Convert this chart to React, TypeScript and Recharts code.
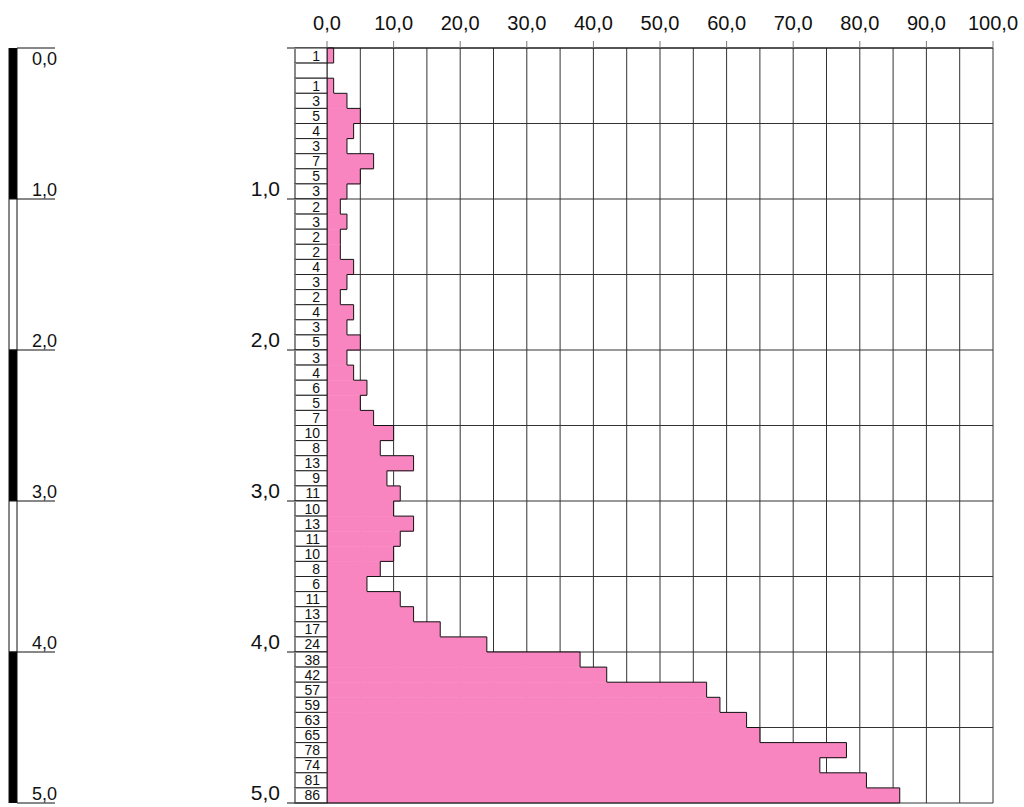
import React from 'react';
import { BarChart, Bar, XAxis, YAxis, CartesianGrid } from 'recharts';

// blow counts per 0.1 m, from top (0.0) to bottom (5.0); null = no reading
const blows = [
  1, null, 1, 3, 5, 4, 3, 7, 5, 3,
  2, 3, 2, 2, 4, 3, 2, 4, 3, 5,
  3, 4, 6, 5, 7, 10, 8, 13, 9, 11,
  10, 13, 11, 10, 8, 6, 11, 13, 17, 24,
  38, 42, 57, 59, 63, 65, 78, 74, 81, 86
];
const depthMarks = [0, 1, 2, 3, 4, 5];
const halfMarks = [0, 0.5, 1, 1.5, 2, 2.5, 3, 3.5, 4, 4.5, 5];
const xTicks = [0, 10, 20, 30, 40, 50, 60, 70, 80, 90, 100];
const xGrid = [0, 5, 10, 15, 20, 25, 30, 35, 40, 45, 50, 55, 60, 65, 70, 75, 80, 85, 90, 95, 100];
const scaleColors = ['#000', '#fff', '#000', '#fff', '#000'];

const FONT = '"Liberation Sans", Arial, sans-serif';
const PINK = '#F985C0';

const rowCenters = blows.map((_, i) => +(i * 0.1 + 0.05).toFixed(2));
const data = blows.map((v, i) => ({ row: i, depth: rowCenters[i], value: v }));
const depthTicks = [...depthMarks, ...rowCenters].sort((a, b) => a - b);

const scaleRow: Record<string, any> = { name: 'scale' };
scaleColors.forEach((_, i) => { scaleRow['s' + i] = 1; });

const comma = (v: number) => v.toFixed(1).replace('.', ',');

// fill + stepped outline (no inner lines between rows)
const StepShape = (props: any) => {
  const { x, y, width, height, payload } = props;
  const index = payload.row;
  const v = blows[index];
  if (!v) return null;
  const k = width / v;
  const prev = index > 0 ? blows[index - 1] || 0 : 0;
  const next = index < blows.length - 1 ? blows[index + 1] || 0 : 0;
  const xr = x + width;
  return (
    <g>
      <rect x={x} y={y} width={width} height={height + (next ? 0.6 : 0)} fill={PINK} />
      <path
        d={`M${x + prev * k},${y}H${xr}V${y + height}` + (next === 0 ? `H${x}` : '') + `M${x},${y}V${y + height}`}
        stroke="#111"
        strokeWidth={1}
        fill="none"
      />
    </g>
  );
};

const DepthTick = (props: any) => {
  const { x, y, payload } = props;
  const v = payload.value;
  if (depthMarks.includes(v)) {
    return (
      <g>
        <line x1={x - 40} x2={x} y1={y} y2={y} stroke="#111" />
        {v > 0 && (
          <text x={x - 47} y={y - 3} textAnchor="end" fontSize={21} fontFamily={FONT} fill="#111">
            {comma(v)}
          </text>
        )}
      </g>
    );
  }
  const i = Math.round((v - 0.05) * 10);
  const b = blows[i];
  const h = 15.1;
  return (
    <g>
      <rect x={x - 32} y={y - h / 2} width={32} height={h} fill="#fff" stroke="#222" strokeWidth={1} />
      <line x1={x - 32} x2={x - 32} y1={y - h / 2} y2={y + h / 2} stroke="#888" strokeWidth={2} />
      {b != null && (
        <text x={x - 7} y={y + 5} textAnchor="end" fontSize={14} fontFamily={FONT} fill="#111">
          {b}
        </text>
      )}
    </g>
  );
};

const ScaleTick = (props: any) => {
  const { x, y, payload } = props;
  const v = payload.value;
  return (
    <g>
      <line x1={x} x2={x + 38} y1={y} y2={y} stroke="#111" />
      <text x={x + 40} y={v === 0 ? y + 17 : y - 3} textAnchor="end" fontSize={18} fontFamily={FONT} fill="#111">
        {comma(v)}
      </text>
    </g>
  );
};

export default function App() {
  return (
    <div style={{ position: 'absolute', left: 0, top: 0, width: 1024, height: 807, background: '#fff' }}>
      <div style={{ position: 'absolute', left: 0, top: 0 }}>
        <BarChart width={120} height={807} data={[scaleRow]} margin={{ top: 48, right: 0, bottom: 4, left: 9 }} barCategoryGap={0}>
          <XAxis dataKey="name" hide />
          <YAxis
            type="number"
            orientation="right"
            domain={[0, 5]}
            allowDataOverflow
            reversed
            ticks={depthMarks}
            interval={0}
            width={103}
            tickSize={0}
            tickMargin={0}
            axisLine={false}
            tick={<ScaleTick />}
          />
          {scaleColors.map((c, i) => (
            <Bar key={i} dataKey={'s' + i} stackId="a" fill={c} stroke="#111" strokeWidth={1} isAnimationActive={false} />
          ))}
        </BarChart>
      </div>
      <div style={{ position: 'absolute', left: 200, top: 0 }}>
        <BarChart
          width={824}
          height={807}
          data={data}
          layout="vertical"
          margin={{ top: 0, right: 31, bottom: 4, left: 0 }}
          barCategoryGap={0}
        >
          <CartesianGrid
            yAxisId="depth"
            horizontalValues={halfMarks}
            verticalValues={xGrid}
            stroke="#333"
            strokeWidth={1}
          />
          <XAxis
            type="number"
            orientation="top"
            domain={[0, 100]}
            allowDataOverflow
            ticks={xTicks}
            interval={0}
            height={48}
            tickSize={7}
            tickMargin={11}
            tickFormatter={comma}
            tickLine={{ stroke: '#777' }}
            axisLine={{ stroke: '#111' }}
            tick={{ fontSize: 20, fontFamily: FONT, fill: '#111' }}
          />
          <YAxis yAxisId="row" type="category" dataKey="row" hide />
          <YAxis
            yAxisId="depth"
            type="number"
            dataKey="depth"
            domain={[0, 5]}
            allowDataOverflow
            ticks={depthTicks}
            interval={0}
            width={127}
            tickSize={0}
            tickMargin={0}
            axisLine={false}
            tick={<DepthTick />}
          />
          <Bar yAxisId="row" dataKey="value" shape={<StepShape />} isAnimationActive={false} />
        </BarChart>
      </div>
    </div>
  );
}
